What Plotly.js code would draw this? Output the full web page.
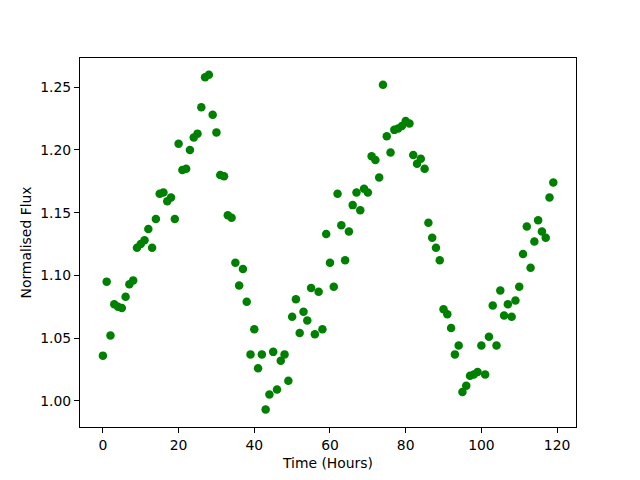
<!DOCTYPE html>
<html>
<head>
<meta charset="utf-8">
<script src="https://cdn.plot.ly/plotly-3.0.1.min.js"></script>
<style>html,body{margin:0;padding:0;background:#fff;}#chart{width:640px;height:480px;}</style>
</head>
<body>
<div id="chart"></div>
<script>
const hours = [];
for (let i = 0; i < 120; i++) hours.push(i);
const flux = [
1.036,1.095,1.052,1.077,1.075,1.074,1.083,1.093,1.096,1.122,
1.125,1.128,1.137,1.122,1.145,1.165,1.166,1.159,1.162,1.145,
1.205,1.184,1.185,1.200,1.210,1.213,1.234,1.258,1.260,1.228,
1.214,1.180,1.179,1.148,1.146,1.110,1.092,1.105,1.079,1.037,
1.057,1.026,1.037,0.993,1.005,1.039,1.009,1.032,1.037,1.016,
1.067,1.081,1.054,1.071,1.064,1.090,1.053,1.087,1.057,1.133,
1.110,1.091,1.165,1.140,1.112,1.135,1.156,1.166,1.152,1.169,
1.166,1.195,1.192,1.178,1.252,1.211,1.198,1.216,1.217,1.219,
1.223,1.221,1.196,1.189,1.193,1.185,1.142,1.130,1.122,1.112,
1.073,1.069,1.058,1.037,1.044,1.007,1.012,1.020,1.021,1.023,
1.044,1.021,1.051,1.076,1.044,1.088,1.068,1.077,1.067,1.080,
1.091,1.117,1.139,1.106,1.127,1.144,1.135,1.130,1.162,1.174
];
const xTicks = [0,20,40,60,80,100,120];
const yTicks = [1.00,1.05,1.10,1.15,1.20,1.25];

const font = {family: 'DejaVu Sans', size: 13.9, color: '#000'};
const axisCommon = {
  showline: true, mirror: true, linecolor: '#000', linewidth: 1,
  ticks: 'outside', ticklen: 5, tickwidth: 1, tickcolor: '#000',
  showgrid: false, zeroline: false, tickfont: font
};
Plotly.newPlot('chart', [{
  x: hours, y: flux, type: 'scatter', mode: 'markers',
  marker: {color: '#008000', size: 8.5, line: {width: 0}}
}], {
  width: 640, height: 480,
  margin: {l: 80, r: 64, t: 58, b: 53},
  paper_bgcolor: '#fff', plot_bgcolor: '#fff',
  font: font,
  showlegend: false,
  xaxis: Object.assign({}, axisCommon, {
    range: [-6.05, 125.0], tickvals: xTicks, ticktext: xTicks.map(String),
    title: {text: 'Time (Hours)', font: font, standoff: 6}
  }),
  yaxis: Object.assign({}, axisCommon, {
    range: [0.9791, 1.2733], tickvals: yTicks, ticktext: yTicks.map(v => v.toFixed(2)),
    title: {text: 'Normalised Flux', font: font, standoff: 5}
  })
}, {staticPlot: true});
</script>
</body>
</html>
